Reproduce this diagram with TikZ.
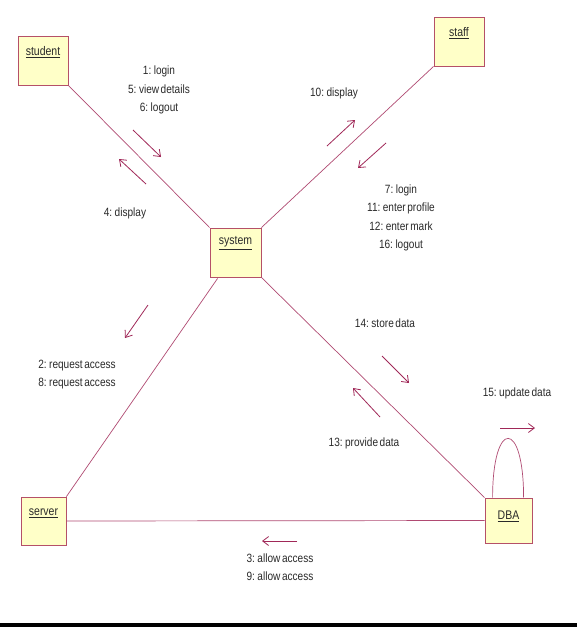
\documentclass[tikz,border=0pt]{standalone}
\usepackage{fontspec}
\setmainfont{Liberation Sans}
\newfontfamily\lblfont[FakeStretch=0.84,WordSpace=0.55]{Liberation Sans}
\usetikzlibrary{arrows.meta,calc}
\definecolor{boxfill}{HTML}{FFFFC8}
\definecolor{boxline}{HTML}{B55068}
\definecolor{linkcol}{HTML}{B04A72}
\definecolor{arrcol}{HTML}{A02858}
\definecolor{txtcol}{HTML}{2A2A2A}
\begin{document}
\begin{tikzpicture}[x=1pt,y=-1pt,
  objbox/.style={draw=boxline,fill=boxfill,line width=0.8pt,inner sep=0pt},
  objname/.style={font=\lblfont\fontsize{12.5}{13}\selectfont,text=txtcol,inner sep=0pt},
  msg/.style={font=\lblfont\fontsize{12}{18.5}\selectfont,text=txtcol,align=center,inner sep=0pt},
  link/.style={draw=linkcol,line width=0.7pt},
  msgarrow/.style={draw=arrcol,line width=0.8pt,-{Straight Barb[length=6pt,width=9pt]}}]
\useasboundingbox (0,0) rectangle (577,627);
\fill[white] (0,0) rectangle (577,627);
\fill[black] (0,623) rectangle (577,627);
% objects
\node[objbox,minimum width=50pt,minimum height=49pt] (student) at (43,60.5) {};
\node[objbox,minimum width=50pt,minimum height=49pt] (staff) at (459,41.5) {};
\node[objbox,minimum width=51pt,minimum height=49pt] (system) at (235.5,252.5) {};
\node[objbox,minimum width=45pt,minimum height=48pt] (server) at (43.5,521) {};
\node[objbox,minimum width=47pt,minimum height=45pt] (DBA) at (508.5,520.5) {};
\node[objname] (lstudent) at (43,52) {\underline{student}};
\node[objname] (lstaff) at (459,33) {\underline{staff}};
\node[objname] (lsystem) at (235.5,243) {\underline{system}};
\node[objname] (lserver) at (43.5,513) {\underline{server}};
\node[objname] (lDBA) at (508.5,516) {\underline{DBA}};
% links
\coordinate (sysbl) at ($(system.south west)+(8,1)$);
\draw[link] (student.south east) -- (system.north west);
\draw[link] (staff.south west) -- (system.north east);
\draw[link] (sysbl) -- (server.north east);
\draw[link] (system.south east) -- (DBA.north west);
\draw[link] (server.east) -- (DBA.west);
\coordinate (loopa) at ($(DBA.north west)+(8,0)$);
\coordinate (loopb) at ($(DBA.north west)+(39,0)$);
\draw[link] (loopa) .. controls ($(loopa)+(0,-79)$) and ($(loopb)+(0,-79)$) .. (loopb);
% message arrows
\coordinate (a1s) at (133,130); \coordinate (a1e) at (161,157);
\draw[msgarrow] (a1s) -- (a1e);
\coordinate (a4s) at (146,184); \coordinate (a4e) at (119,159);
\draw[msgarrow] (a4s) -- (a4e);
\coordinate (a10s) at (327,146); \coordinate (a10e) at (355,120);
\draw[msgarrow] (a10s) -- (a10e);
\coordinate (a7s) at (386,143); \coordinate (a7e) at (358,168);
\draw[msgarrow] (a7s) -- (a7e);
\coordinate (a2s) at (148,305); \coordinate (a2e) at (125,338);
\draw[msgarrow] (a2s) -- (a2e);
\coordinate (a14s) at (382,356); \coordinate (a14e) at (409,383);
\draw[msgarrow] (a14s) -- (a14e);
\coordinate (a13s) at (380,417); \coordinate (a13e) at (353,388);
\draw[msgarrow] (a13s) -- (a13e);
\coordinate (a15s) at (500,428); \coordinate (a15e) at (535,428);
\draw[msgarrow] (a15s) -- (a15e);
\coordinate (a3s) at (297,541); \coordinate (a3e) at (262,541);
\draw[msgarrow] (a3s) -- (a3e);
% message labels
\node[msg] (m1) at (159,90) {1: login\\5: view details\\6: logout};
\node[msg] (m4) at (125,213) {4: display};
\node[msg] (m10) at (334,93) {10: display};
\node[msg] (m7) at (401,218) {7: login\\11: enter profile\\12: enter mark\\16: logout};
\node[msg] (m2) at (77,374.5) {2: request access\\8: request access};
\node[msg] (m14) at (385,323) {14: store data};
\node[msg] (m13) at (364,443) {13: provide data};
\node[msg] (m15) at (517,393) {15: update data};
\node[msg] (m3) at (280,567) {3: allow access\\9: allow access};
\end{tikzpicture}
\end{document}
